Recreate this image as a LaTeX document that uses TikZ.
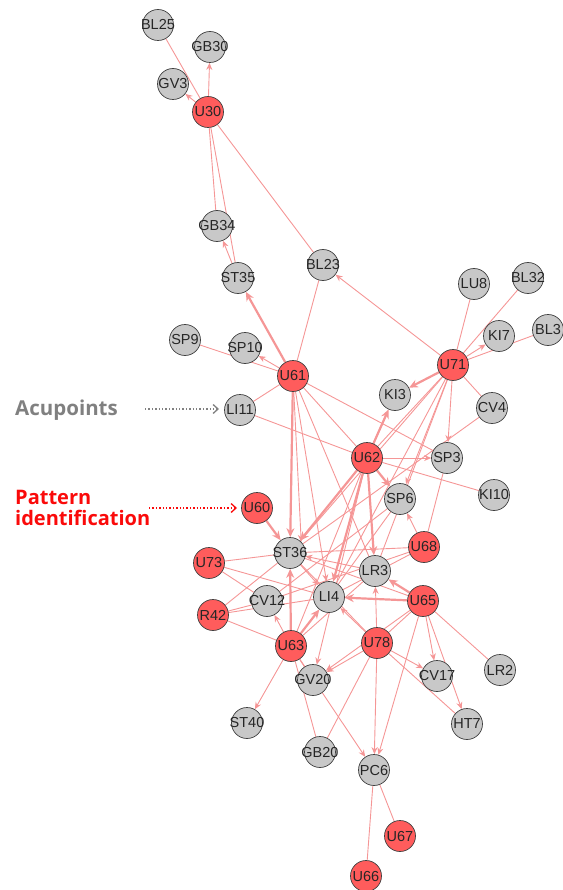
\documentclass[tikz,border=0pt]{standalone}
\usepackage{fontspec}
\setmainfont{Liberation Sans}
\newfontfamily\labfont{Open Sans}
\usetikzlibrary{arrows.meta,backgrounds}
\definecolor{edgec}{RGB}{245,150,150}
\definecolor{redn}{RGB}{255,92,92}
\definecolor{grayn}{RGB}{200,200,200}
\definecolor{graytxt}{RGB}{128,128,128}
\definecolor{redtxt}{RGB}{250,10,10}
\newcommand{\lb}[1]{\makebox[0pt]{#1}}
\tikzset{
  nd/.style={circle,draw=black!75,line width=0.7pt,minimum size=31pt,inner sep=0pt,font=\fontsize{14.5}{15}\selectfont,text=black!85},
  rn/.style={nd,fill=redn},
  gn/.style={nd,fill=grayn},
  e/.style={draw=edgec,line width=0.9pt},
  ea/.style={e,-{Stealth[length=7pt,width=6pt]}},
  ta/.style={draw=edgec,line width=2.2pt,-{Stealth[length=9pt,width=8pt]}},
}
\begin{document}
\begin{tikzpicture}[x=1pt,y=-1pt]
\useasboundingbox (0,0) rectangle (562,890);
% nodes
\node[gn] (BL25) at (158,25) {\lb{BL25}};
\node[gn] (GB30) at (210,47) {\lb{GB30}};
\node[gn] (GV3) at (173,84) {\lb{GV3}};
\node[rn] (U30) at (208,112) {\lb{U30}};
\node[gn] (GB34) at (217,226) {\lb{GB34}};
\node[gn] (ST35) at (238,278) {\lb{ST35}};
\node[gn] (BL23) at (323,265) {\lb{BL23}};
\node[gn] (LU8) at (474,284) {\lb{LU8}};
\node[gn] (BL32) at (528,278) {\lb{BL32}};
\node[gn] (KI7) at (499,336) {\lb{KI7}};
\node[gn] (BL3) at (548,330) {\lb{BL3}};
\node[gn] (SP9) at (185,340) {\lb{SP9}};
\node[gn] (SP10) at (245,348) {\lb{SP10}};
\node[rn] (U61) at (293,376) {\lb{U61}};
\node[rn] (U71) at (453,365) {\lb{U71}};
\node[gn] (KI3) at (395,395) {\lb{KI3}};
\node[gn] (CV4) at (492,408) {\lb{CV4}};
\node[gn] (LI11) at (240,410) {\lb{LI11}};
\node[rn] (U62) at (367,458) {\lb{U62}};
\node[gn] (SP3) at (447,458) {\lb{SP3}};
\node[gn] (KI10) at (494,495) {\lb{KI10}};
\node[gn] (SP6) at (400,499) {\lb{SP6}};
\node[rn] (U60) at (257,508) {\lb{U60}};
\node[rn] (U68) at (424,547) {\lb{U68}};
\node[gn] (ST36) at (290,553) {\lb{ST36}};
\node[rn] (U73) at (209,563) {\lb{U73}};
\node[gn] (LR3) at (375,571) {\lb{LR3}};
\node[gn] (LI4) at (329,597) {\lb{LI4}};
\node[gn] (CV12) at (267,601) {\lb{CV12}};
\node[rn] (U65) at (423,601) {\lb{U65}};
\node[rn] (R42) at (213,615) {\lb{R42}};
\node[rn] (U63) at (291,646) {\lb{U63}};
\node[rn] (U78) at (377,643) {\lb{U78}};
\node[gn] (GV20) at (313,680) {\lb{GV20}};
\node[gn] (CV17) at (437,676) {\lb{CV17}};
\node[gn] (LR2) at (500,670) {\lb{LR2}};
\node[gn] (HT7) at (467,724) {\lb{HT7}};
\node[gn] (ST40) at (247,723) {\lb{ST40}};
\node[gn] (GB20) at (320,752) {\lb{GB20}};
\node[gn] (PC6) at (374,770) {\lb{PC6}};
\node[rn] (U67) at (400,836) {\lb{U67}};
\node[rn] (U66) at (366,876) {\lb{U66}};
% legend
\node[font=\labfont\bfseries\fontsize{20.5}{22}\selectfont,text=graytxt,anchor=west,inner sep=0pt] (acu) at (15,410) {Acupoints};
\node[font=\labfont\bfseries\fontsize{20}{22}\selectfont,text=redtxt,anchor=west,align=left,inner sep=0pt] (pat) at (15,508) {Pattern\\[-1pt]identification};
\coordinate (a1) at (145,409);
\coordinate (a2) at (219,409);
\coordinate (p1) at (149,508);
\coordinate (p2) at (237,508);
\draw[graytxt,line width=1.4pt,dotted,-{Straight Barb[length=5pt,width=9pt,line width=1.3pt]}] (a1) -- (a2);
\draw[redtxt,line width=1.4pt,dotted,-{Straight Barb[length=5pt,width=9pt,line width=1.3pt]}] (p1) -- (p2);
\begin{scope}[on background layer]
% thin lines
\draw[e] (BL25) -- (U30);
\draw[e] (U30) -- (GB34);
\draw[e] (U30) -- (ST35);
\draw[e] (U30) -- (BL23);
\draw[e] (U61) -- (BL23);
\draw[e] (SP9) -- (U61);
\draw[e] (LI11) -- (U61);
\draw[e] (LU8) -- (U71);
\draw[e] (BL32) -- (U71);
\draw[e] (BL3) -- (U71);
\draw[e] (CV4) -- (U71);
\draw[e] (U61) -- (U62);
\draw[e] (LI11) -- (U62);
\draw[e] (U62) -- (KI10);
\draw[e] (CV4) -- (ST36);
\draw[e] (U71) -- (U62);
\draw[e] (U71) -- (ST36);
\draw[e] (U71) -- (LI4);
\draw[e] (U71) -- (LR3);
\draw[e] (U61) -- (LR3);
\draw[e] (U61) -- (SP3);
\draw[e] (U73) -- (ST36);
\draw[e] (U73) -- (LI4);
\draw[e] (U73) -- (CV12);
\draw[e] (R42) -- (ST36);
\draw[e] (R42) -- (LI4);
\draw[e] (R42) -- (CV12);
\draw[e] (R42) -- (U63);
\draw[e] (U68) -- (ST36);
\draw[e] (U68) -- (LI4);
\draw[e] (U68) -- (SP3);
\draw[e] (U68) -- (CV12);
\draw[e] (U65) -- (ST36);
\draw[e] (U65) -- (LR2);
\draw[e] (U78) -- (ST36);
\draw[e] (U78) -- (HT7);
\draw[e] (U78) -- (U65);
\draw[e] (GB20) -- (U63);
\draw[e] (GB20) -- (U78);
\draw[e] (PC6) -- (U66);
\draw[e] (PC6) -- (U67);
\draw[e] (U63) -- (GV20);
\draw[e] (SP6) -- (LI4);
\draw[e] (SP6) -- (CV12);
\draw[e] (U63) -- (LR3);
\draw[e] (U62) -- (U63);
% thin arrows
\draw[ea] (U30) -- (GB30);
\draw[ea] (U30) -- (GV3);
\draw[ea] (ST35) -- (GB34);
\draw[ea] (U71) -- (BL23);
\draw[ea] (U61) -- (SP10);
\draw[ea] (U71) -- (KI7);
\draw[ea] (U71) -- (SP3);
\draw[ea] (U71) -- (SP6);
\draw[ea] (U62) -- (SP3);
\draw[ea] (U61) -- (LI4);
\draw[ea] (U68) -- (SP6);
\draw[ea] (U65) -- (CV17);
\draw[ea] (U65) -- (HT7);
\draw[ea] (U65) -- (PC6);
\draw[ea] (U65) -- (GV20);
\draw[ea] (U78) -- (LR3);
\draw[ea] (U78) -- (LI4);
\draw[ea] (U78) -- (GV20);
\draw[ea] (U78) -- (CV17);
\draw[ea] (U78) -- (PC6);
\draw[ea] (U63) -- (CV12);
\draw[ea] (U63) -- (ST40);
\draw[ea] (U63) -- (PC6);
\draw[ea] (U62) -- (GV20);
\draw[ea] (LR3) -- (ST36);
\draw[ea] (ST36) -- (LI4);
\draw[ea] (U61) -- (ST36.north east);
% thick arrows
\draw[ta] (U61) -- (ST35);
\draw[ta] (U61) -- (ST36);
\draw[ta] (U71) -- (KI3);
\draw[ta] (U62) -- (KI3);
\draw[ta] (U62) -- (SP6);
\draw[ta] (U62) -- (ST36);
\draw[ta] (U62) -- (LI4);
\draw[ta] (U62) -- (LR3);
\draw[ta] (U60) -- (ST36);
\draw[ta] (U65) -- (LR3);
\draw[ta] (U65) -- (LI4);
\draw[ta] (U63) -- (ST36);
\draw[ta] (U63) -- (LI4);
\end{scope}
\end{tikzpicture}
\end{document}
